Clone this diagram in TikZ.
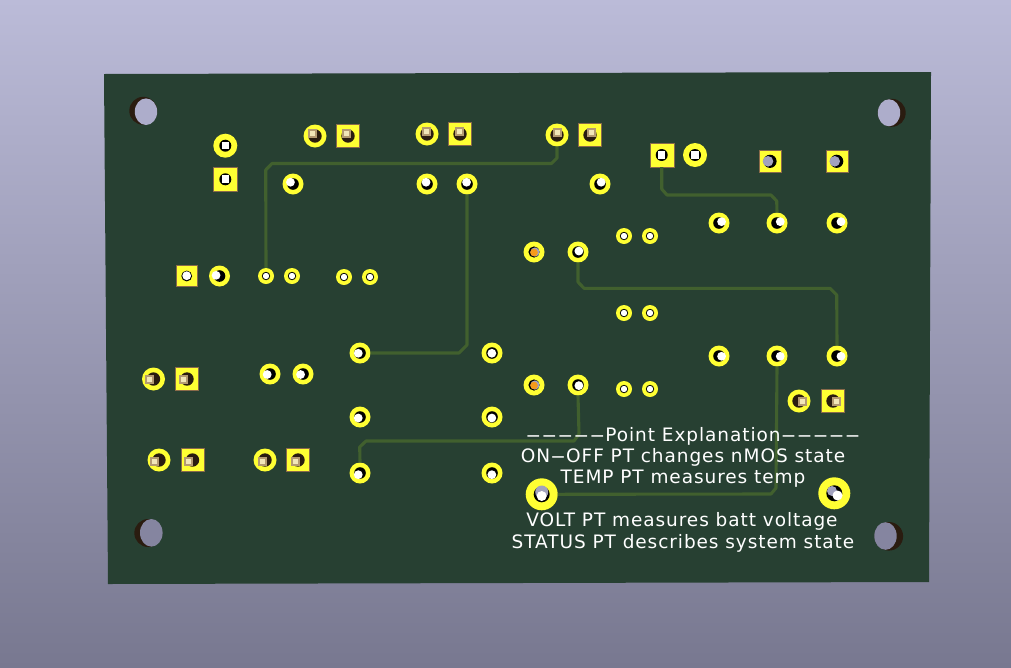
\documentclass[tikz,border=0pt]{standalone}
\usepackage{fontspec}
\newfontfamily\silkfont[LetterSpace=5]{DejaVu Sans}
\definecolor{bgtop}{HTML}{BBBBD8}
\definecolor{bgbot}{HTML}{787890}
\definecolor{boardgreen}{HTML}{274032}
\definecolor{tracegreen}{HTML}{41602E}
\definecolor{padyellow}{HTML}{FFFF33}
\definecolor{padedge}{HTML}{8A6A4A}
\definecolor{holedark}{HTML}{2A1C10}
\definecolor{pintan}{HTML}{B49A72}
\definecolor{pinlight}{HTML}{F2E6B8}
\definecolor{holegrey}{HTML}{A2A2BE}
\definecolor{holetop}{HTML}{ADADCB}
\definecolor{holebot}{HTML}{8585A0}
\definecolor{pinorange}{HTML}{F59A1C}
\tikzset{
  padround/.style={circle,fill=padyellow,inner sep=0pt,minimum size=#1},
  padsquare/.style={rectangle,fill=padyellow,draw=padedge,line width=0.4pt,inner sep=0pt,minimum size=#1},
  trace/.style={draw=tracegreen,line width=3.1pt,line join=round},
  silk/.style={text=white,font=\silkfont\fontsize{18.5}{20}\selectfont,inner sep=0pt,anchor=base,transform shape}
}
% long dash of the board font
\newcommand{\silkdash}{\scalebox{2.4}[1]{-}}
% offset of a pin or of the see-through part, from the view point
\newcommand{\setoff}[2]{\pgfmathsetmacro\offx{(#1-505)*0.012}\pgfmathsetmacro\offy{(#2-333)*0.012}}
\newcommand{\holetan}[2]{\setoff{#1}{#2}
  \fill[holedark] (#1,#2) circle (6.7);
  \fill[pintan] (#1+\offx-4.5,#2+\offy-4.5) rectangle (#1+\offx+4.5,#2+\offy+4.5);
  \fill[pinlight] (#1+\offx-2.5,#2+\offy-2.5) rectangle (#1+\offx+2.5,#2+\offy+2.5);}
\newcommand{\holelight}[2]{\setoff{#1}{#2}
  \fill[black] (#1,#2) circle (5.8);
  \fill[white] (#1+\offx,#2+\offy) circle (4.4);}
\newcommand{\holesmall}[2]{\fill[black] (#1,#2) circle (4.2);
  \fill[white] (#1,#2) circle (3.2);}
\newcommand{\holepin}[2]{\fill[black] (#1,#2) circle (6);
  \fill[white] (#1-3.7,#2-4) rectangle (#1+3.7,#2+3.5);}
\newcommand{\holeview}[2]{\fill[black] (#1,#2) circle (6.6);
  \fill[holegrey] (#1-2,#2) circle (5.3);}
\newcommand{\holeorange}[2]{\fill[black] (#1,#2) circle (5.6);
  \fill[holegrey] (#1+1,#2) circle (4.6);
  \fill[pinorange] (#1,#2+0.5) circle (3.8);}
\begin{document}
\begin{tikzpicture}[x=1pt,y=-1pt]
\useasboundingbox (0,0) rectangle (1011,667);
\shade[top color=bgtop,bottom color=bgbot] (0,0) rectangle (1011,667);
\fill[boardgreen] (104,74)--(931,72)--(929,582)--(108,584)--cycle;
% mounting holes
\fill[holedark] (143.3,110.8) circle (14);
\fill[holetop] (146,111.7) ellipse (11.2 and 13.3);
\fill[holedark] (891.7,112.8) circle (14);
\fill[holetop] (889,112.8) ellipse (11.2 and 13.5);
\fill[holedark] (148.3,533) circle (14);
\fill[holebot] (151.3,532.8) ellipse (11.3 and 13.8);
\fill[holedark] (888.8,536.3) circle (14.3);
\fill[holebot] (885.5,536) ellipse (11.2 and 13.8);
% square pads with pin
\foreach \name/\x/\y in {sa/348/136,sb/460/134,sc/590/135,sd/187/379,se/192.5/460,
  sf/298/460,sg/833/401}{
  \node[padsquare=23] (\name) at (\x,\y) {};
  \holetan{\x}{\y}
}
% round pads with pin
\foreach \name/\x/\y in {ta/315/136,tb/427/134,tc/557/135,td/153.5/379,te/159/460,
  tf/265/460,tg/799/401}{
  \node[padround=23] (\name) at (\x,\y) {};
  \holetan{\x}{\y}
}
% round pads, open
\foreach \name/\x/\y in {ra/293/184,rb/427/184,rc/467/184,rd/600/184,re/219.5/276,
  rf/270/374,rg/303/374,rh/360/353,ri/360/417,rj/360/473,rk/492/353,rl/492/417,
  rm/492/473,rn/578/252,ro/578/385,rp/719/223,rq/777/223,rr/837/223,rs/719/356,
  rt/777/356,ru/837/356}{
  \node[padround=21] (\name) at (\x,\y) {};
  \holelight{\x}{\y}
}
% small round pads
\foreach \name/\x/\y in {ma/266/276,mb/292/276,mc/344/277,md/370/277,me/624/236,
  mf/650/236,mg/624/313,mh/650/313,mi/624/389,mj/650/389}{
  \node[padround=16] (\name) at (\x,\y) {};
  \holesmall{\x}{\y}
}
% pads with a square pin in black
\node[padround=24] (pa) at (225.3,145.7) {};
\holepin{225.3}{145.7}
\node[padsquare=24] (pb) at (225.3,179.3) {};
\holepin{225.3}{179.3}
\node[padsquare=21] (pc) at (186.7,276) {};
\fill[black] (186.7,276) circle (5.4);
\fill[white] (186.7,275.7) circle (4.4);
\node[padsquare=24] (pd) at (661.7,155) {};
\holepin{661.7}{155}
\node[padround=24] (pe) at (695,155) {};
\holepin{695}{155}
% square pads, see through
\foreach \name/\x/\y in {va/770/161.3,vb/836.7/161.3}{
  \node[padsquare=22] (\name) at (\x,\y) {};
  \holeview{\x}{\y}
}
% orange pins
\foreach \name/\x/\y in {oa/534/252,ob/534/385}{
  \node[padround=21] (\name) at (\x,\y) {};
  \holeorange{\x}{\y}
}
% test points
\node[padround=32] (tpa) at (541.7,494.3) {};
\fill[black] (541.7,494.3) circle (8);
\fill[holegrey] (541.7,492) circle (6.5);
\fill[white] (541.7,496) circle (5);
\node[padround=32] (tpb) at (834.3,493.3) {};
\fill[black] (834.3,493.3) circle (8);
\fill[holegrey] (832,491) circle (5);
\fill[white] (837.5,495.5) circle (5);
% traces
\draw[trace] (tc.south) -- (557,158) -- (551.5,163.5) -- (272,163.5) -- (265.7,170) -- (ma.north);
\draw[trace] (rc.south) -- (467,345) -- (459,353) -- (rh.east);
\draw[trace] (pd.south) -- (661.7,189) -- (667,195) -- (771,195) -- (776.7,201) -- (rq.north);
\draw[trace] (rn.south) -- (578,282) -- (584,288.3) -- (830,288.3) -- (836.7,295) -- (ru.north);
\draw[trace] (ro.south) -- (579,434) -- (574,441) -- (366,441) -- (359.7,447) -- (rj.north);
\draw[trace] (tpa.east) -- (771,494) -- (776,488) -- (rt.south);
% silkscreen text
\node[silk] (texta) at (693,441) {\silkdash\silkdash\silkdash\silkdash\silkdash Point Explanation\silkdash\silkdash\silkdash\silkdash\silkdash};
\node[silk] (textb) at (683,462.5) {ON\silkdash OFF PT changes nMOS state};
\node[silk] (textc) at (683,483.5) {TEMP PT measures temp};
\node[silk] (textd) at (682,526.5) {VOLT PT measures batt voltage};
\node[silk] (texte) at (683,548) {STATUS PT describes system state};
\end{tikzpicture}
\end{document}
